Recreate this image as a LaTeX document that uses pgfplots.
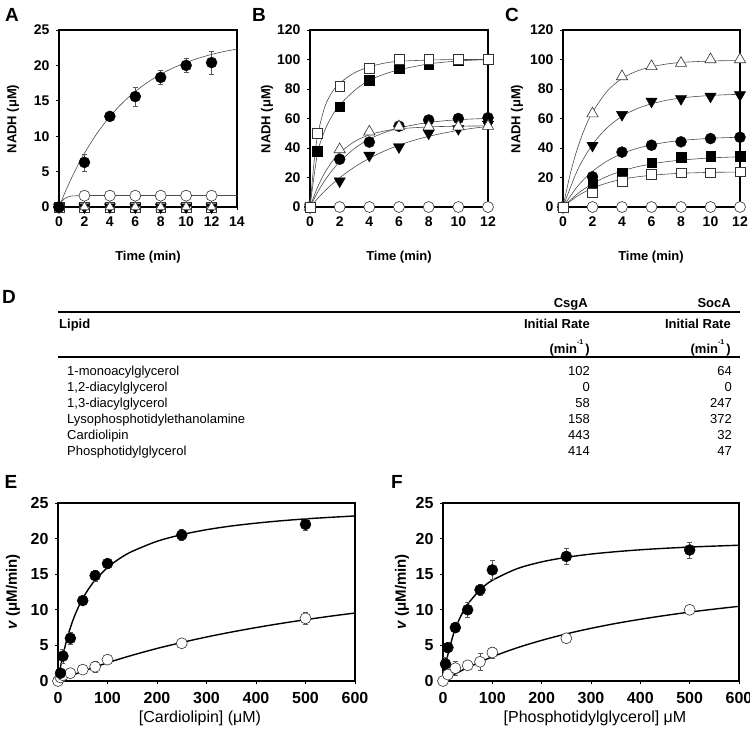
\documentclass[border=0pt]{standalone}
\usepackage{fontspec}
\setmainfont{Liberation Sans}
\usepackage{pgfplots}
\pgfplotsset{compat=1.18}

\pgfplotsset{
  panel/.style={scale only axis, anchor=south west, clip=false,
    axis line style={line width=2.2pt}, tick align=outside,
    xtick pos=left, ytick pos=left, major tick length=3pt,
    tick style={black, line width=0.8pt},
    tick label style={font=\bfseries\fontsize{14}{14}\selectfont},
    xticklabel style={yshift=-3pt}, yticklabel style={xshift=-3pt},
    /pgf/number format/assume math mode=true},
  fitc/.style={gray!60!black, line width=0.6pt, smooth, no marks},
  fitk/.style={black, line width=1.4pt, smooth, no marks},
  fc/.style={only marks, mark=*, mark size=5.5pt, mark options={draw=black, fill=black}},
  oc/.style={only marks, mark=*, mark size=5.5pt, mark options={draw=black!80, fill=white, line width=0.6pt}},
  fs/.style={only marks, mark=square*, mark size=4.8pt, mark options={draw=black, fill=black}},
  os/.style={only marks, mark=square*, mark size=4.8pt, mark options={draw=black!80, fill=white, line width=0.6pt}},
  ot/.style={only marks, mark=triangle*, mark size=6.5pt, mark options={draw=black!80, fill=white, line width=0.6pt}},
  ft/.style={only marks, mark=triangle*, mark size=6.5pt, mark options={draw=black, fill=black, rotate=180}},
  eb/.style={error bars/y dir=both, error bars/y explicit,
    error bars/error bar style={gray!70!black, line width=0.5pt},
    error bars/error mark options={rotate=90, mark size=2.5pt, gray!70!black, line width=0.5pt}},
}

\begin{document}
\begin{tikzpicture}
\useasboundingbox (0,0) rectangle (750pt,-731pt);

% ---------- A ----------
\begin{axis}[panel, at={(59pt,-207pt)}, width=178pt, height=177pt,
  xmin=0, xmax=14, ymin=0, ymax=25, xtick={0,2,...,14}, ytick={0,5,...,25}]
\addplot[fitc] coordinates {(0,0)(0.5,2.17)(1,4.15)(1.5,5.95)(2,7.6)(3,10.43)(4,12.77)(5,14.72)(6,16.32)(7,17.65)(8,18.75)(9,19.66)(10,20.41)(11,21.03)(12,21.55)(13,21.97)(14,22.3)};
\addplot[fitc] coordinates {(0,0)(0.25,0.85)(0.5,1.25)(0.75,1.45)(1,1.55)(1.5,1.6)(2,1.62)(4,1.62)(8,1.62)(14,1.62)};
\addplot[os] coordinates {(0,0)(2,0)(4,0)(6,0)(8,0)(10,0)(12,0)};
\addplot[ft] coordinates {(0,0)(2,0)(4,0)(6,0)(8,0)(10,0)(12,0)};
\addplot[ot, mark size=5.5pt] coordinates {(0,0)(2,0)(4,0)(6,0)(8,0)(10,0)(12,0)};
\addplot[oc] coordinates {(0,0)(2,1.6)(4,1.6)(6,1.6)(8,1.6)(10,1.6)(12,1.6)};
\addplot[fc, eb] coordinates {(0,0) +- (0,0) (2,6.3) +- (0,1.2) (4,12.8) +- (0,0.6) (6,15.6) +- (0,1.3) (8,18.3) +- (0,1.0) (10,20) +- (0,1.0) (12,20.4) +- (0,1.6)};
\end{axis}

% ---------- B ----------
\begin{axis}[panel, at={(310pt,-207pt)}, width=178pt, height=177pt,
  xmin=0, xmax=12, ymin=0, ymax=120, xtick={0,2,...,12}, ytick={0,20,...,120}]
\addplot[fitc] coordinates {(0,0)(0.25,28)(0.5,48)(1,68)(1.5,78)(2,84)(3,91)(4,95)(5,97.5)(6,98.8)(8,99.6)(10,100)(12,100)};
\addplot[fitc] coordinates {(0,0)(0.5,36)(1,52)(1.5,62)(2,69)(3,79)(4,86)(5,90)(6,93)(8,97)(10,99)(12,100)};
\addplot[fitc] coordinates {(0,0)(0.5,13.2)(1,23.3)(1.5,30.9)(2,36.7)(3,44.4)(4,48.9)(5,51.5)(6,53)(8,54.3)(10,54.8)(12,55)};
\addplot[fitc] coordinates {(0,0)(0.5,9.8)(1,18)(1.5,24.9)(2,30.7)(3,39.7)(4,46)(5,50.4)(6,53.5)(7,55.7)(8,57.3)(9,58.4)(10,59.2)(11,59.7)(12,60.1)};
\addplot[fitc] coordinates {(0,0)(1,10.9)(2,19.8)(3,27.1)(4,33)(5,37.9)(6,41.9)(7,45.2)(8,47.9)(9,50.1)(10,51.9)(11,53.4)(12,54.6)};
\addplot[oc] coordinates {(0,0)(2,0)(4,0)(6,0)(8,0)(10,0)(12,0)};
\addplot[ft] coordinates {(0,0)(2,17.5)(4,35)(6,40.7)(8,50)(10,53)(12,56)};
\addplot[fc] coordinates {(0,0)(2,32.4)(4,44)(6,54.8)(8,59)(10,60)(12,60.5)};
\addplot[ot] coordinates {(0,0)(2,39)(4,51)(6,54.5)(8,54.5)(10,54.5)(12,54.8)};
\addplot[fs] coordinates {(0,0)(0.5,38)(2,68)(4,86)(6,94)(8,97)(10,99.5)(12,100)};
\addplot[os] coordinates {(0,0)(0.5,50)(2,82)(4,94)(6,100)(8,100)(10,100)(12,100)};
\end{axis}

% ---------- C ----------
\begin{axis}[panel, at={(563pt,-207pt)}, width=177pt, height=177pt,
  xmin=0, xmax=12, ymin=0, ymax=120, xtick={0,2,...,12}, ytick={0,20,...,120}]
\addplot[fitc] coordinates {(0,0)(0.5,22.8)(1,40.3)(1.5,53.9)(2,64.3)(3,78.6)(4,87.1)(5,92.1)(6,95.1)(7,96.9)(8,98)(10,99)(12,99.3)};
\addplot[fitc] coordinates {(0,0)(1,25.4)(2,42.4)(3,53.8)(4,61.5)(5,66.6)(6,70)(7,72.3)(8,73.9)(9,74.9)(10,75.6)(11,76.1)(12,76.4)};
\addplot[fitc] coordinates {(0,0)(1,14.2)(2,24.2)(3,31.2)(4,36.2)(5,39.7)(6,42.1)(7,43.9)(8,45.1)(9,45.9)(10,46.6)(11,47)(12,47.3)};
\addplot[fitc] coordinates {(0,0)(1,9.1)(2,15.8)(3,20.8)(4,24.5)(5,27.2)(6,29.2)(7,30.7)(8,31.8)(9,32.6)(10,33.3)(11,33.7)(12,34)};
\addplot[fitc] coordinates {(0,0)(1,7.6)(2,12.8)(3,16.3)(4,18.8)(5,20.4)(6,21.5)(7,22.3)(8,22.9)(9,23.2)(10,23.5)(11,23.6)(12,23.7)};
\addplot[oc] coordinates {(0,0)(2,0)(4,0)(6,0)(8,0)(10,0)(12,0)};
\addplot[ot] coordinates {(0,0)(2,63.3)(4,88.5)(6,95.3)(8,97.5)(10,100)(12,100)};
\addplot[ft] coordinates {(0,0)(2,41.7)(4,62.6)(6,71.6)(8,73.4)(10,75)(12,76)};
\addplot[fc] coordinates {(0,0)(2,20.5)(4,37.2)(6,41.9)(8,44.2)(10,46.4)(12,47.3)};
\addplot[fs] coordinates {(0,0)(2,15.8)(4,22.8)(6,30)(8,33.8)(10,34.5)(12,34.5)};
\addplot[os] coordinates {(0,0)(2,9.7)(4,17.6)(6,22.1)(8,23.2)(10,23.2)(12,24)};
\end{axis}

% ---------- E ----------
\begin{axis}[panel, at={(58pt,-681pt)}, width=297pt, height=178pt,
  axis line style={line width=2pt},
  tick label style={font=\bfseries\fontsize{16}{16}\selectfont},
  xticklabel style={yshift=-2pt},
  xmin=0, xmax=600, ymin=0, ymax=25, xtick={0,100,...,600}, ytick={0,5,...,25}]
\addplot[fitk] coordinates {(0,0)(5,1.96)(10,3.64)(20,6.38)(30,8.5)(40,10.2)(50,11.59)(60,12.75)(75,14.17)(100,15.94)(125,17.23)(150,18.21)(200,19.62)(250,20.56)(300,21.25)(350,21.77)(400,22.17)(450,22.5)(500,22.77)(550,22.99)(600,23.18)};
\addplot[fitk] coordinates {(0,0)(25,0.7)(50,1.36)(100,2.56)(150,3.62)(200,4.57)(250,5.41)(300,6.18)(350,6.87)(400,7.5)(450,8.08)(500,8.61)(550,9.1)(600,9.55)};
\addplot[oc, eb] coordinates {(0,0) +- (0,0) (5,0.5) +- (0,0) (10,0.8) +- (0,0.3) (25,1.1) +- (0,0.6) (50,1.6) +- (0,0.3) (75,2) +- (0,0.8) (100,3) +- (0,0.5) (250,5.3) +- (0,0.3) (500,8.8) +- (0,0.8)};
\addplot[fc, eb] coordinates {(5,1.1) +- (0,0.5) (10,3.5) +- (0,1.0) (25,6) +- (0,0.8) (50,11.3) +- (0,0.4) (75,14.8) +- (0,0.8) (100,16.5) +- (0,0.6) (250,20.5) +- (0,0.8) (500,22) +- (0,0.8)};
\end{axis}

% ---------- F ----------
\begin{axis}[panel, at={(443pt,-681pt)}, width=296pt, height=178pt,
  axis line style={line width=2pt},
  tick label style={font=\bfseries\fontsize{16}{16}\selectfont},
  xticklabel style={yshift=-2pt},
  xmin=0, xmax=600, ymin=0, ymax=25, xtick={0,100,...,600}, ytick={0,5,...,25}]
\addplot[fitk] coordinates {(0,0)(5,2.05)(10,3.73)(20,6.31)(25,7.32)(30,8.2)(40,9.65)(50,10.79)(75,12.81)(100,14.14)(150,15.77)(200,16.73)(250,17.37)(300,17.83)(350,18.16)(400,18.43)(450,18.64)(500,18.81)(550,18.95)(600,19.07)};
\addplot[fitk] coordinates {(0,0)(25,0.99)(50,1.88)(100,3.4)(150,4.66)(200,5.71)(250,6.62)(300,7.4)(350,8.08)(400,8.67)(450,9.2)(500,9.68)(550,10.1)(600,10.49)};
\addplot[oc, eb] coordinates {(0,0) +- (0,0) (10,0.9) +- (0,0) (25,1.8) +- (0,1) (50,2.2) +- (0,0.3) (75,2.7) +- (0,1.2) (100,4) +- (0,0.8) (250,6) +- (0,0.3) (500,10) +- (0,0.3)};
\addplot[fc, eb] coordinates {(5,2.4) +- (0,1) (10,4.7) +- (0,0.6) (25,7.5) +- (0,0.7) (50,10) +- (0,1) (75,12.8) +- (0,0.8) (100,15.6) +- (0,1.3) (250,17.5) +- (0,1.1) (500,18.4) +- (0,1.1)};
\end{axis}

% ---------- labels ----------
\begin{scope}[every node/.style={font=\bfseries\fontsize{19}{19}\selectfont, inner sep=0pt}]
\node at (12pt,-15pt) {A};
\node at (259pt,-15pt) {B};
\node at (512pt,-15pt) {C};
\node at (9pt,-297pt) {D};
\node at (11pt,-482pt) {E};
\node at (397pt,-482pt) {F};
\end{scope}

\begin{scope}[every node/.style={font=\bfseries\fontsize{13}{13}\selectfont, inner sep=0pt}]
\node[rotate=90] at (13pt,-119pt) {NADH (μM)};
\node[rotate=90] at (267pt,-119pt) {NADH (μM)};
\node[rotate=90] at (517pt,-119pt) {NADH (μM)};
\node at (148pt,-257pt) {Time (min)};
\node at (399pt,-257pt) {Time (min)};
\node at (651pt,-257pt) {Time (min)};
\end{scope}

\begin{scope}[every node/.style={font=\bfseries\fontsize{15}{15}\selectfont, inner sep=0pt}]
\node[rotate=90] at (13pt,-592pt) {\textit{v} (μM/min)};
\node[rotate=90] at (402pt,-592pt) {\textit{v} (μM/min)};
\end{scope}
\begin{scope}[every node/.style={font=\fontsize{16}{16}\selectfont, inner sep=0pt}]
\node at (200pt,-718pt) {[Cardiolipin] (μM)};
\node at (595pt,-718pt) {[Phosphotidylglycerol] μM};
\end{scope}

% ---------- D (table) ----------
\draw[line width=1.8pt] (58pt,-312pt) -- (740pt,-312pt);
\draw[line width=1.5pt] (58pt,-357pt) -- (740pt,-357pt);
\begin{scope}[every node/.style={font=\bfseries\fontsize{13}{13}\selectfont, inner sep=0pt, text height=9.5pt, text depth=2.5pt}]
\node[anchor=east] at (588pt,-304pt) {CsgA};
\node[anchor=east] at (731pt,-304pt) {SocA};
\node[anchor=west] at (59pt,-325pt) {Lipid};
\node[anchor=east] at (590pt,-325pt) {Initial Rate};
\node[anchor=east] at (731pt,-325pt) {Initial Rate};
\node[anchor=east] at (590pt,-350pt) {(min\raisebox{9pt}{\fontsize{7}{7}\selectfont -1}\,)};
\node[anchor=east] at (731pt,-350pt) {(min\raisebox{9pt}{\fontsize{7}{7}\selectfont -1}\,)};
\end{scope}
\begin{scope}[every node/.style={font=\fontsize{13}{13}\selectfont, inner sep=0pt, text height=9.5pt, text depth=2.5pt}]
\node[anchor=west] at (67pt,-372pt) {1-monoacylglycerol};
\node[anchor=west] at (67pt,-388pt) {1,2-diacylglycerol};
\node[anchor=west] at (67pt,-404pt) {1,3-diacylglycerol};
\node[anchor=west] at (67pt,-420pt) {Lysophosphotidylethanolamine};
\node[anchor=west] at (67pt,-436pt) {Cardiolipin};
\node[anchor=west] at (67pt,-452pt) {Phosphotidylglycerol};
\node[anchor=east] at (590pt,-372pt) {102};
\node[anchor=east] at (590pt,-388pt) {0};
\node[anchor=east] at (590pt,-404pt) {58};
\node[anchor=east] at (590pt,-420pt) {158};
\node[anchor=east] at (590pt,-436pt) {443};
\node[anchor=east] at (590pt,-452pt) {414};
\node[anchor=east] at (732pt,-372pt) {64};
\node[anchor=east] at (732pt,-388pt) {0};
\node[anchor=east] at (732pt,-404pt) {247};
\node[anchor=east] at (732pt,-420pt) {372};
\node[anchor=east] at (732pt,-436pt) {32};
\node[anchor=east] at (732pt,-452pt) {47};
\end{scope}
\end{tikzpicture}
\end{document}
